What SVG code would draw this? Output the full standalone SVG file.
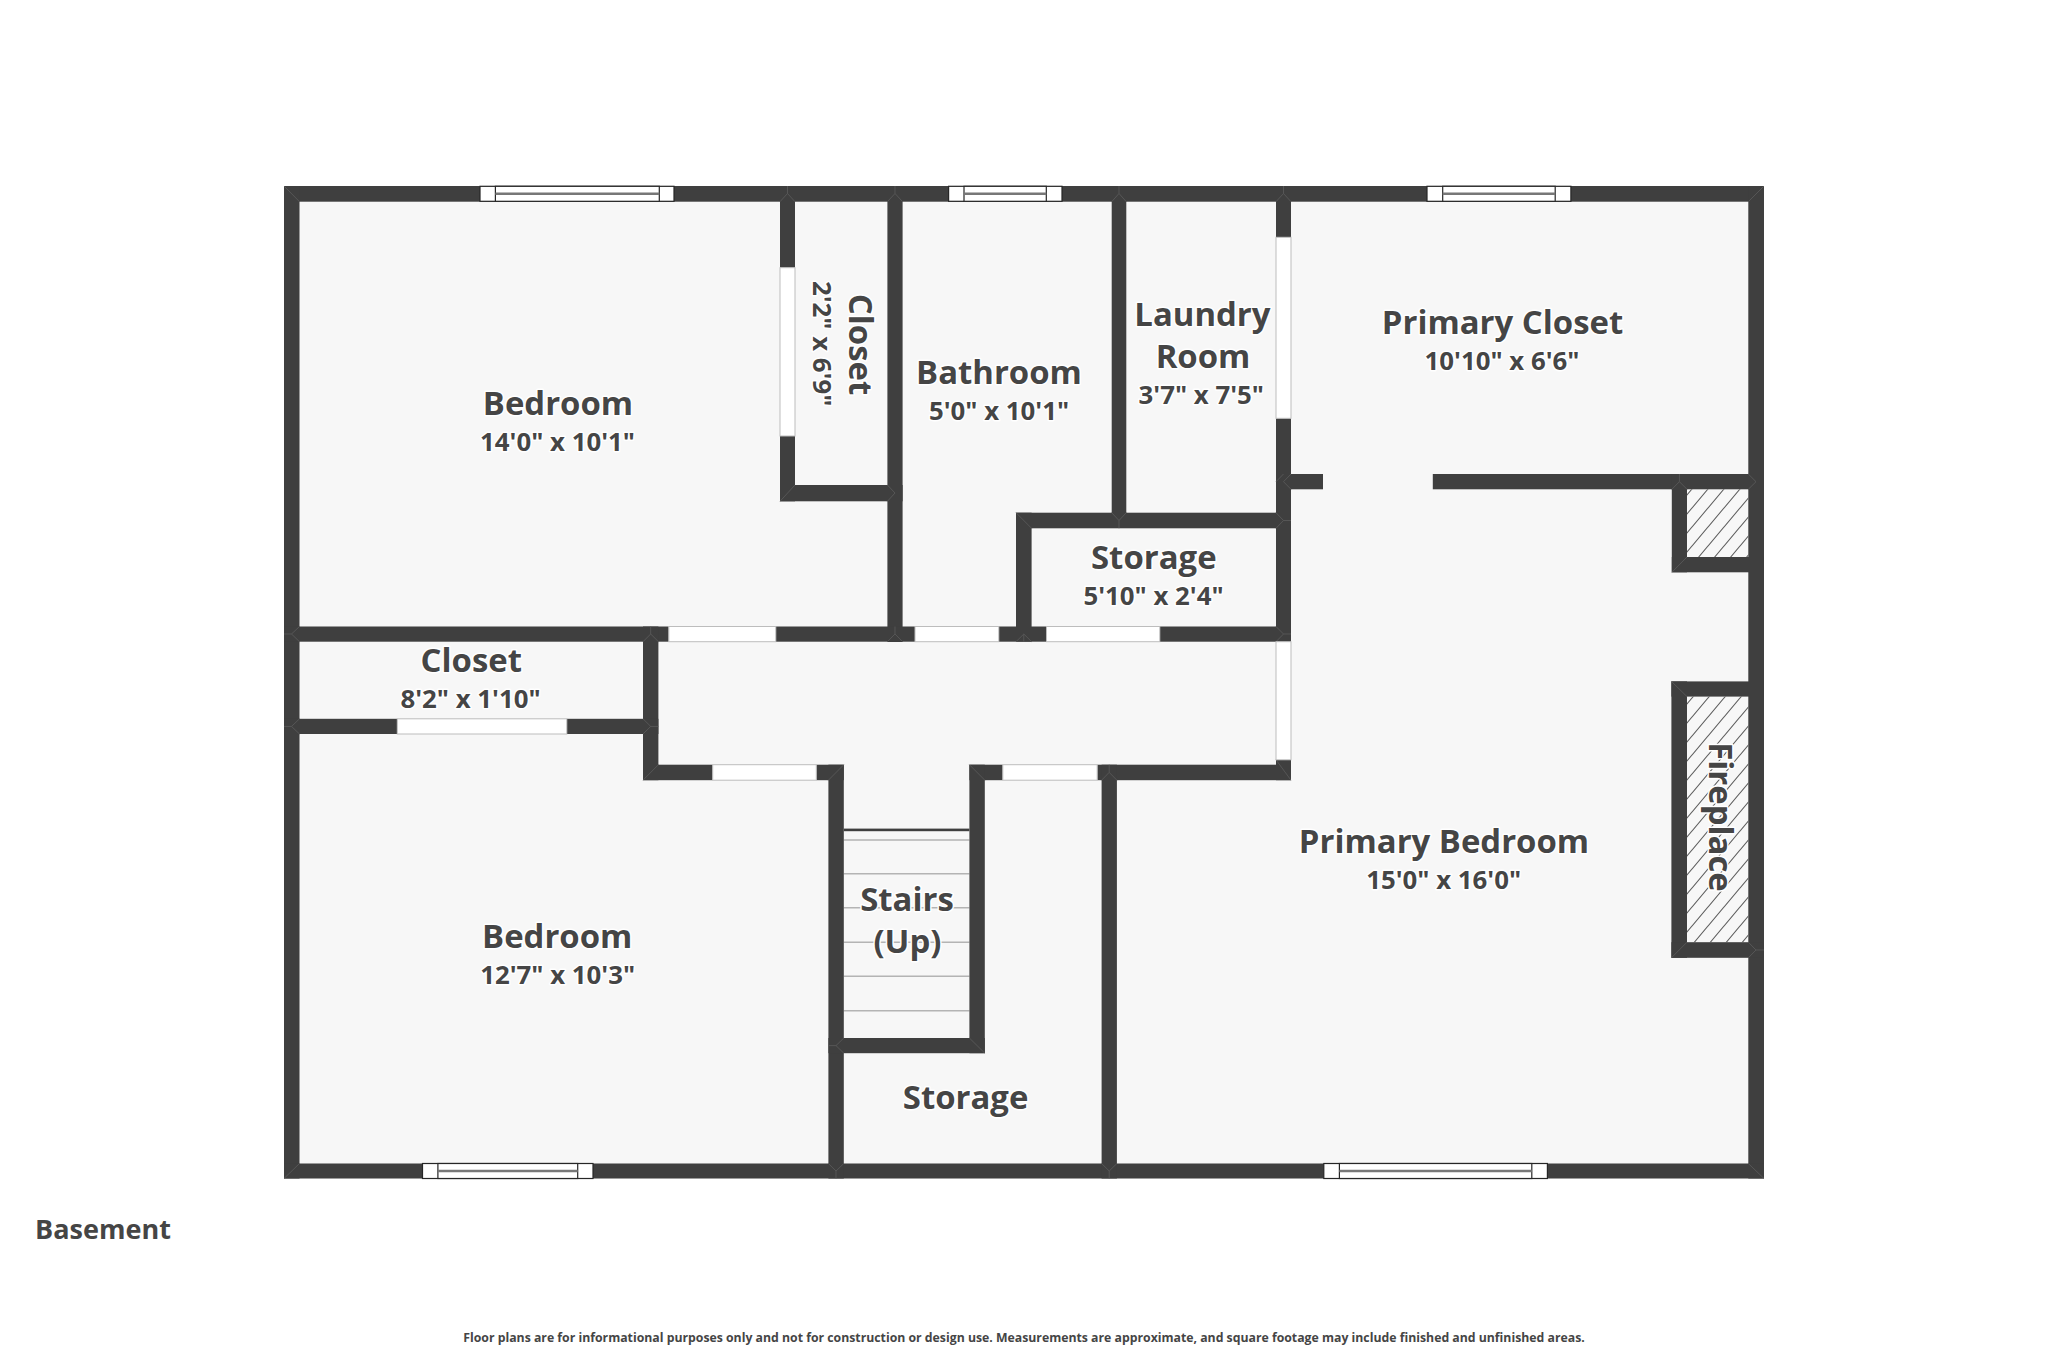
<svg xmlns="http://www.w3.org/2000/svg" width="2048" height="1365" viewBox="0 0 2048 1365">
<defs>
<pattern id="hatch" patternUnits="userSpaceOnUse" width="16" height="19" x="1692" y="489"><path d="M-4 23.75L20 -4.75M-20 23.75L4 -4.75M12 23.75L36 -4.75" stroke="#5e5e5e" stroke-width="1.1" fill="none"/></pattern>
</defs>
<style>
.w{fill:#3f3f3f}
.d{fill:#fff;stroke:#bdbdbd;stroke-width:1}
.win{fill:#fff;stroke:#262626;stroke-width:1.2}
.wl{stroke:#777;stroke-width:2.4;fill:none}
.m{stroke:#5c5c5c;stroke-width:.8;fill:none}
.st{stroke:#b4b4b4;stroke-width:1.5}
text{font-family:"Open Sans","Noto Sans","Liberation Sans",sans-serif;font-weight:700;fill:#454545;text-anchor:middle;paint-order:stroke;stroke:#fff;stroke-width:3;stroke-linejoin:round}
.n{font-size:32.9px}
.s{font-size:25.8px}
</style>
<rect width="2048" height="1365" fill="#fff"/>
<rect id="floor" x="284" y="186" width="1480" height="992.5" fill="#f7f7f7"/>
<rect id="hearth1" x="1687" y="489.3" width="61.3" height="67.7" fill="url(#hatch)"/>
<rect id="hearth2" x="1687" y="696.6" width="61.3" height="245.6" fill="url(#hatch)"/>
<g id="stairs">
<path class="st" d="M843.8 840H969.4M843.8 873.8H969.4M843.8 907.8H969.4M843.8 942.2H969.4M843.8 976.3H969.4M843.8 1010.7H969.4"/>
<rect x="843.8" y="828.6" width="125.6" height="2.6" class="w"/>
</g>
<g id="walls">
<rect class="w" x="284" y="186" width="1480" height="15.7"/>
<rect class="w" x="284" y="186" width="15.5" height="992.5"/>
<rect class="w" x="1748.3" y="186" width="15.7" height="992.5"/>
<rect class="w" x="284" y="1163.5" width="1480" height="15"/>
<rect class="w" x="780" y="201" width="15" height="66.7"/>
<rect class="w" x="780" y="436" width="15" height="65.3"/>
<rect class="w" x="780" y="485" width="122.6" height="16.3"/>
<rect class="w" x="887.4" y="186" width="15.2" height="456"/>
<rect class="w" x="284" y="626.5" width="384.8" height="15.2"/>
<rect class="w" x="775.8" y="626.5" width="139.2" height="15.2"/>
<rect class="w" x="998.8" y="626.5" width="47.7" height="15.2"/>
<rect class="w" x="1159.8" y="626.5" width="131.2" height="15.2"/>
<rect class="w" x="1111.7" y="186" width="14.6" height="342"/>
<rect class="w" x="1016" y="512.7" width="15.6" height="129"/>
<rect class="w" x="1016" y="512.7" width="275" height="15.6"/>
<rect class="w" x="1276" y="186" width="15" height="51.3"/>
<rect class="w" x="1276" y="418.3" width="15" height="223.4"/>
<rect class="w" x="1276" y="759.8" width="15" height="20.4"/>
<rect class="w" x="1291" y="474" width="32" height="15.3"/>
<rect class="w" x="1432.8" y="474" width="331.2" height="15.3"/>
<rect class="w" x="1671.8" y="474" width="15.2" height="98.3"/>
<rect class="w" x="1671.8" y="557" width="92" height="15.3"/>
<rect class="w" x="1671.4" y="681.4" width="15.6" height="276.4"/>
<rect class="w" x="1671.4" y="681.4" width="92" height="15.2"/>
<rect class="w" x="1671.4" y="942.2" width="92" height="15.6"/>
<rect class="w" x="643" y="626.5" width="15.4" height="153.7"/>
<rect class="w" x="284" y="718.8" width="113.3" height="15.2"/>
<rect class="w" x="566.8" y="718.8" width="91.6" height="15.2"/>
<rect class="w" x="643" y="764.7" width="69.7" height="15.5"/>
<rect class="w" x="816.3" y="764.7" width="27.5" height="15.5"/>
<rect class="w" x="969.4" y="764.7" width="33.4" height="15.5"/>
<rect class="w" x="1097.2" y="764.7" width="193.8" height="15.5"/>
<rect class="w" x="828.4" y="764.7" width="15.4" height="413.8"/>
<rect class="w" x="969.4" y="764.7" width="15.4" height="288.5"/>
<rect class="w" x="828.4" y="1038" width="156.4" height="15.2"/>
<rect class="w" x="1101.6" y="764.7" width="15.3" height="413.8"/>
</g>
<g id="joints">
<path class="m" d="M284 186L299.5 201.7M1764 186L1748.3 201.7M284 1178.5L299.5 1163.5M1764 1178.5L1748.3 1163.5"/>
<path class="m" d="M787.5 186V193.5M780 201.7L787.5 193.5L795 201.7M895 186V193.5M887.4 201.7L895 193.5L902.6 201.7M1119 186V193.5M1111.7 201.7L1119 193.5L1126.3 201.7M1283.5 186V193.5M1276 201.7L1283.5 193.5L1291 201.7"/>
<path class="m" d="M780 501.3L795 485M887.4 485L895 493L887.4 501.3M887.4 641.7L895 634L902.6 641.7M895 626.5V634"/>
<path class="m" d="M284 634H291.5M291.5 634L299.5 626.5M291.5 634L299.5 641.7M650.7 626.5V634M643 641.7L650.7 634L658.4 641.7"/>
<path class="m" d="M1016 512.7L1031.6 528.3M1119 528.3V520.5M1111.7 512.7L1119 520.5L1126.3 512.7M1276 512.7L1283.5 520.5L1276 528.3M1283.5 520.5H1291M1023.8 641.7V634M1016 641.7L1023.8 634L1031.6 641.7M1276 626.5L1283.5 634L1276 641.7M1283.5 634H1291"/>
<path class="m" d="M1276 481.7L1283.5 474M1283.5 481.7L1291 474M1283.5 481.7L1291 489.3M1679.4 474V481.7M1671.8 489.3L1679.4 481.7L1687 489.3M1748.3 474L1756 481.7L1748.3 489.3M1671.8 572.3L1687 557"/>
<path class="m" d="M1671.4 681.4L1687 696.6M1671.4 957.8L1687 942.2M1748.3 957.8L1756 950L1748.3 942.2M1756 950H1764"/>
<path class="m" d="M284 726.4H291.5M291.5 726.4L299.5 718.8M291.5 726.4L299.5 734M643 718.8L650.7 726.4L643 734M650.7 726.4H658.4M643 780.2L658.4 764.7M843.8 764.7L828.4 780.2M969.4 764.7L984.8 780.2M828.4 1045.6H836M836 1045.6L843.8 1038M836 1045.6L843.8 1053.2M969.4 1038L984.8 1053.2M836 1178.5V1171M828.4 1163.5L836 1171L843.8 1163.5M1109.2 1178.5V1171M1101.6 1163.5L1109.2 1171L1116.9 1163.5M1276 759.8L1291 780.2M1109.2 764.7V772.4M1101.6 780.2L1109.2 772.4L1116.9 780.2"/>
</g>
<g id="doors">
<rect class="d" x="668.8" y="626.5" width="107" height="15.2"/>
<rect class="d" x="915" y="626.5" width="83.8" height="15.2"/>
<rect class="d" x="1046.5" y="626.5" width="113.3" height="15.2"/>
<rect class="d" x="397.3" y="718.8" width="169.5" height="15.2"/>
<rect class="d" x="712.7" y="764.7" width="103.6" height="15.5"/>
<rect class="d" x="1002.8" y="764.7" width="94.4" height="15.5"/>
<rect class="d" x="780" y="267.7" width="15" height="168.3"/>
<rect class="d" x="1276" y="237.3" width="15" height="181"/>
<rect class="d" x="1276" y="641.7" width="15" height="118.1"/>
</g>
<g id="windows">
<g><rect class="win" x="480" y="186.3" width="194" height="15"/><rect class="win" x="495.4" y="186.3" width="163.9" height="15"/><path class="wl" d="M495.4 193.8H659.3"/></g>
<g><rect class="win" x="948.6" y="186.3" width="113.4" height="15"/><rect class="win" x="964" y="186.3" width="82.3" height="15"/><path class="wl" d="M964 193.8H1046.3"/></g>
<g><rect class="win" x="1427" y="186.3" width="143.9" height="15"/><rect class="win" x="1442.7" y="186.3" width="112.5" height="15"/><path class="wl" d="M1442.7 193.8H1555.2"/></g>
<g><rect class="win" x="422.5" y="1163.5" width="170.5" height="15"/><rect class="win" x="437.9" y="1163.5" width="139.8" height="15"/><path class="wl" d="M437.9 1171H577.7"/></g>
<g><rect class="win" x="1323.8" y="1163.5" width="223.6" height="15"/><rect class="win" x="1339.4" y="1163.5" width="192.4" height="15"/><path class="wl" d="M1339.4 1171H1531.8"/></g>
</g>
<g id="labels">
<g id="bedroom-1"><text class="n" x="558" y="415">Bedroom</text><text class="s" x="557.5" y="451">14'0" x 10'1"</text></g>
<g id="closet-1"><text class="n" transform="translate(849 344.5) rotate(90)">Closet</text><text class="s" transform="translate(812.5 343.7) rotate(90)">2'2" x 6'9"</text></g>
<g id="bathroom"><text class="n" x="999" y="384">Bathroom</text><text class="s" x="999" y="420">5'0" x 10'1"</text></g>
<g id="laundry"><text class="n" x="1202.4" y="325.7">Laundry</text><text class="n" x="1203" y="368.3">Room</text><text class="s" x="1201.3" y="404.3">3'7" x 7'5"</text></g>
<g id="primary-closet"><text class="n" x="1502.5" y="334">Primary Closet</text><text class="s" x="1502" y="370.3">10'10" x 6'6"</text></g>
<g id="storage-1"><text class="n" x="1153.8" y="568.8">Storage</text><text class="s" x="1153.5" y="604.7">5'10" x 2'4"</text></g>
<g id="closet-2"><text class="n" x="471.3" y="672">Closet</text><text class="s" x="470.5" y="708">8'2" x 1'10"</text></g>
<g id="bedroom-2"><text class="n" x="557.2" y="948">Bedroom</text><text class="s" x="557.7" y="983.8">12'7" x 10'3"</text></g>
<g id="stairs-label"><text class="n" x="907" y="911.4">Stairs</text><text class="n" x="907.4" y="953">(Up)</text></g>
<g id="storage-2"><text class="n" x="965.6" y="1108.8">Storage</text></g>
<g id="primary-bedroom"><text class="n" x="1444" y="853">Primary Bedroom</text><text class="s" x="1443.7" y="889">15'0" x 16'0"</text></g>
<g id="fireplace"><text class="n" transform="translate(1709 817) rotate(90)">Fireplace</text></g>
<text x="103" y="1239" font-size="27" style="stroke:none">Basement</text>
<text x="1024" y="1342" font-size="12.28" style="stroke:none">Floor plans are for informational purposes only and not for construction or design use. Measurements are approximate, and square footage may include finished and unfinished areas.</text>
</g>
</svg>
